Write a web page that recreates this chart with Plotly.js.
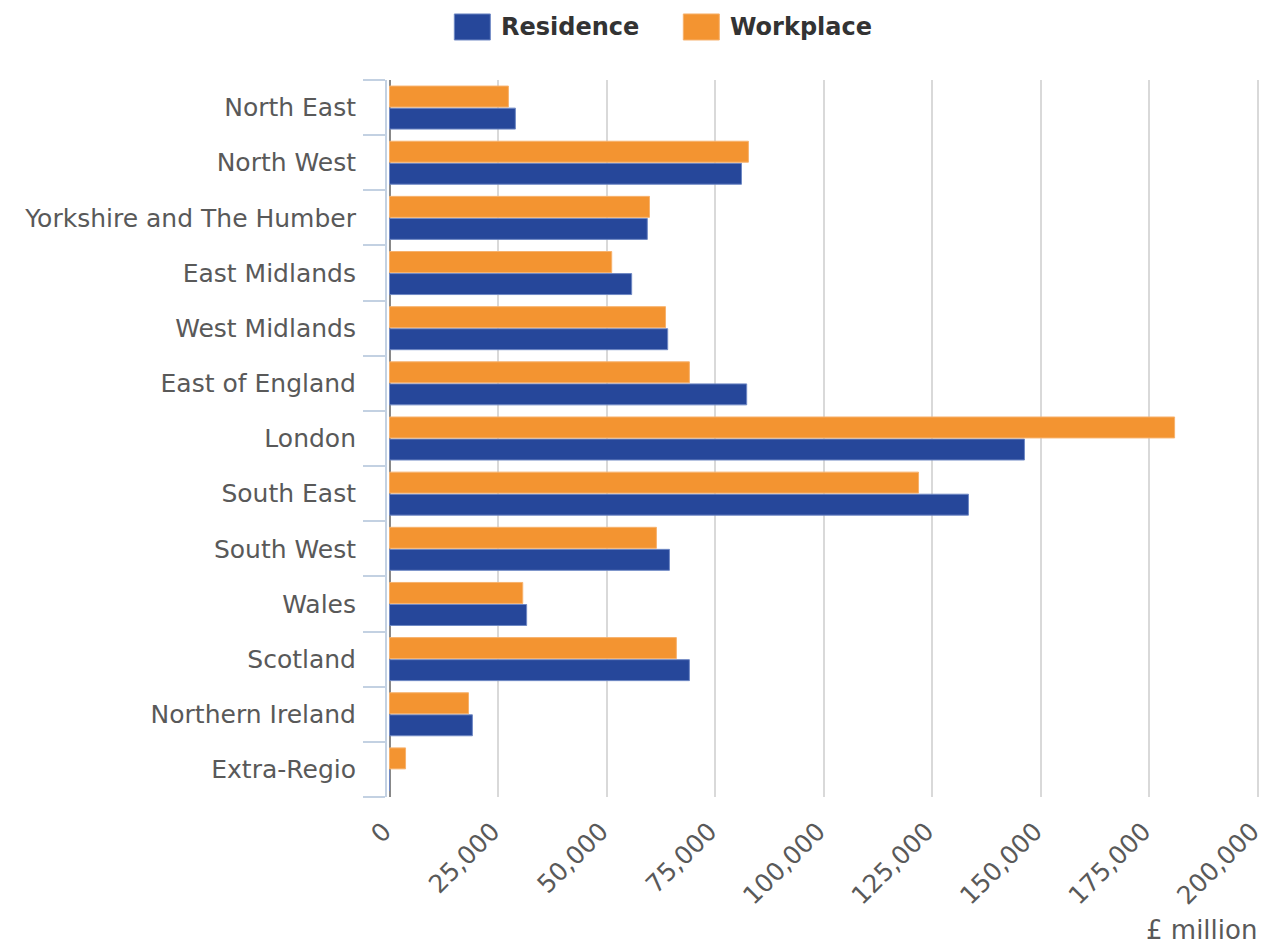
<!DOCTYPE html>
<html>
<head>
<meta charset="utf-8">
<script src="https://cdn.plot.ly/plotly-3.0.1.min.js"></script>
<style>html,body{margin:0;padding:0;background:#fff;}#chart{width:1261px;height:944px;}</style>
</head>
<body>
<div id="chart"></div>
<script>
const regions = ["North East","North West","Yorkshire and The Humber","East Midlands","West Midlands","East of England","London","South East","South West","Wales","Scotland","Northern Ireland","Extra-Regio"];
const residence = [29000, 81100, 59400, 55800, 64100, 82300, 146300, 133400, 64500, 31600, 69100, 19100, 0];
const workplace = [27400, 82700, 59900, 51200, 63600, 69100, 180900, 121900, 61500, 30700, 66100, 18200, 3700];
const xTicks = [0, 25000, 50000, 75000, 100000, 125000, 150000, 175000, 200000];
const xTickLabels = ["0","25,000","50,000","75,000","100,000","125,000","150,000","175,000","200,000"];
const seriesNames = ["Residence", "Workplace"];
const seriesColors = ["#26479a", "#f39431"];
const seriesLines = ["#6f88c4", "#f7b26d"];

const traces = [
  {type:'bar', orientation:'h', name:seriesNames[0], y:regions, x:residence,
   marker:{color:seriesColors[0], line:{color:seriesLines[0], width:1}}, hoverinfo:'x+y'},
  {type:'bar', orientation:'h', name:seriesNames[1], y:regions, x:workplace,
   marker:{color:seriesColors[1], line:{color:seriesLines[1], width:1}}, hoverinfo:'x+y'}
];

// Custom legend (swatches + labels) in paper coordinates
const legendSwatchX = [0.0772, 0.3398];
const legendTextX = [0.1289, 0.3905];
const shapes = legendSwatchX.map((x0, i) => ({
  type:'rect', xref:'paper', yref:'paper', x0:x0, x1:x0 + 0.0413, y0:1.0558, y1:1.0921,
  fillcolor:seriesColors[i], line:{color:seriesLines[i], width:1}
}));
const annotations = seriesNames.map((name, i) => ({
  text:'<b>' + name + '</b>', xref:'paper', yref:'paper', x:legendTextX[i], y:1.0739,
  xanchor:'left', yanchor:'middle', showarrow:false,
  font:{family:'DejaVu Sans', size:24, color:'#333333'}
}));
annotations.push({text:'£ million', xref:'paper', yref:'paper', x:1, y:-0.185,
  xanchor:'right', yanchor:'middle', showarrow:false,
  font:{family:'DejaVu Sans', size:26, color:'#595959'}});

const layout = {
  width:1261, height:944,
  margin:{l:387, r:2, t:80, b:147},
  paper_bgcolor:'#fff', plot_bgcolor:'#fff',
  font:{family:'DejaVu Sans', color:'#595959', size:25},
  barmode:'group', bargap:0.2, bargroupgap:0.05,
  showlegend:false,
  xaxis:{range:[-576, 200346], tickvals:xTicks,
         ticktext:xTickLabels.map(t => t + '\u00a0'), tickangle:-45,
         showgrid:true, gridcolor:'#d9d9d9', gridwidth:2,
         zeroline:true, zerolinecolor:'#888', zerolinewidth:2,
         showline:false, ticks:'', ticklabelstandoff:8, ticklabeloverflow:'allow',
         tickfont:{size:25, color:'#595959'}},
  yaxis:{type:'category', categoryorder:'array', categoryarray:regions.slice().reverse(),
         tickson:'boundaries', ticks:'outside', ticklen:22, tickcolor:'#c3d1e2', tickwidth:2,
         showline:true, linecolor:'#c3d1e2', linewidth:2, showgrid:false,
         ticklabelstandoff:24, tickfont:{size:25, color:'#595959'}},
  shapes:shapes,
  annotations:annotations
};

Plotly.newPlot('chart', traces, layout, {displayModeBar:false, staticPlot:true});
</script>
</body>
</html>
